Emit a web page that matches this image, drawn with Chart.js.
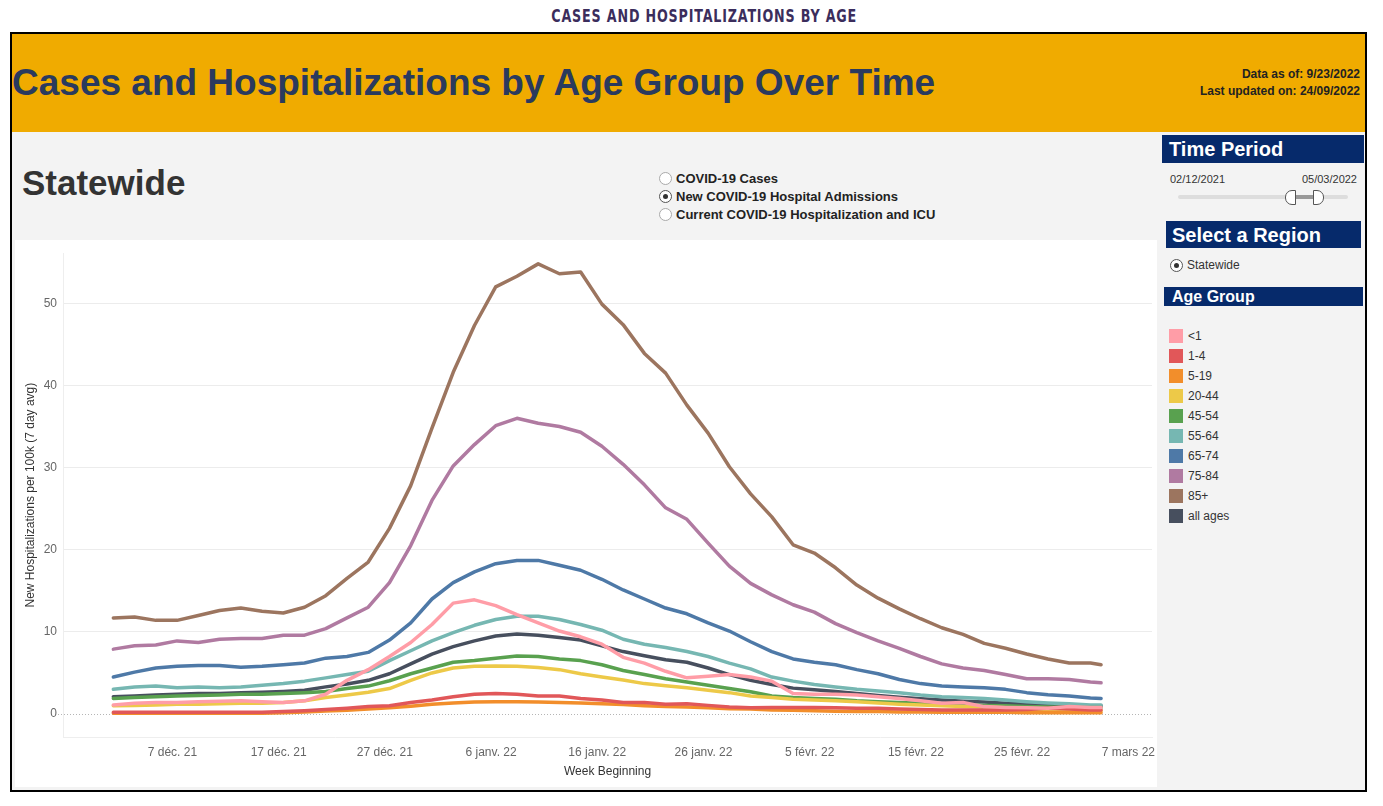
<!DOCTYPE html>
<html>
<head>
<meta charset="utf-8">
<title>Cases and Hospitalizations by Age</title>
<script src="https://cdn.jsdelivr.net/npm/chart.js@4.4.0/dist/chart.umd.min.js"></script>
<style>
    body { margin: 0; width: 1383px; height: 806px; background: #fff; position: relative; overflow: hidden;
           font-family: "Liberation Sans", Arial, sans-serif; }
    .abs { position: absolute; }
    #pageTitleRow { left: 13px; top: 6px; width: 1383px; text-align: center; }
    #pageTitle { display: inline-block; transform: scaleX(0.83); font-family: "Liberation Sans Narrow", "DejaVu Sans Condensed", sans-serif;
                 font-weight: bold; font-size: 17px; line-height: 20px; letter-spacing: 1px; color: #3b2d5c; }
    #frame { left: 10px; top: 32px; width: 1353px; height: 756px; border: 2px solid #000; background: #f3f3f3; }
    #header { left: 12px; top: 34px; width: 1353px; height: 98px; background: #f0ab00; }
    #bigTitle { left: 12px; top: 62px; font-size: 37px; line-height: 42px; font-weight: bold; color: #2a3a5e; white-space: nowrap; }
    .stamp { right: 23px; font-size: 12px; line-height: 14px; font-weight: bold; color: #222; text-align: right; }
    #statewide { left: 22px; top: 163px; font-size: 35px; line-height: 40px; font-weight: bold; color: #333; }
    .radio { width: 11px; height: 11px; border: 1px solid #aaa; border-radius: 50%; background: #fff; }
    .radio.on { border-color: #555; }
    .radio.on::after { content: ""; position: absolute; left: 3px; top: 3px; width: 5px; height: 5px; border-radius: 50%; background: #333; }
    .measure { left: 676px; font-size: 13px; line-height: 15px; font-weight: bold; color: #222; white-space: nowrap; }
    #chartBox { left: 15px; top: 240px; width: 1142px; height: 547px; background: #fff; }
    .panelHead { background: #062a6b; color: #fff; font-weight: bold; white-space: nowrap; box-sizing: border-box; }
    .small { font-size: 11px; line-height: 13px; color: #333; }
    .legendSwatch { left: 1169px; width: 14px; height: 14px; }
    .legendLabel { left: 1188px; font-size: 12px; line-height: 14px; color: #333; }
</style>
</head>
<body>
<div id="pageTitleRow" class="abs"><span id="pageTitle">CASES AND HOSPITALIZATIONS BY AGE</span></div>
<div id="frame" class="abs"></div>
<div id="header" class="abs"></div>
<div id="bigTitle" class="abs">Cases and Hospitalizations by Age Group Over Time</div>
<div class="abs stamp" style="top:67px">Data as of: 9/23/2022</div>
<div class="abs stamp" style="top:84px">Last updated on: 24/09/2022</div>

<div id="statewide" class="abs">Statewide</div>
<div class="abs radio" style="left:659px; top:172px"></div>
<div class="abs radio on" style="left:659px; top:190px"></div>
<div class="abs radio" style="left:659px; top:208px"></div>
<div class="abs measure" style="top:171px">COVID-19 Cases</div>
<div class="abs measure" style="top:189px">New COVID-19 Hospital Admissions</div>
<div class="abs measure" style="top:207px">Current COVID-19 Hospitalization and ICU</div>

<div id="chartBox" class="abs"><canvas id="hosp-chart" width="1142" height="547"></canvas></div>

<!-- Side panel -->
<div class="abs panelHead" style="left:1162px; top:135px; width:202px; height:28px; padding-left:7px; font-size:20px; line-height:28px">Time Period</div>
<div class="abs small" style="left:1170px; top:173px">02/12/2021</div>
<div class="abs small" style="right:26px; top:173px">05/03/2022</div>
<div class="abs" style="left:1178px; top:195px; width:170px; height:4px; border-radius:2px; background:#ddd"></div>
<div class="abs" style="left:1290px; top:195px; width:27px; height:4px; background:#999"></div>
<div class="abs" style="left:1285px; top:190px; width:9px; height:13px; background:#fff; border:1px solid #555; border-radius:7px 0 0 7px"></div>
<div class="abs" style="left:1313px; top:190px; width:9px; height:13px; background:#fff; border:1px solid #555; border-radius:0 7px 7px 0"></div>

<div class="abs panelHead" style="left:1166px; top:221px; width:195px; height:27px; padding-left:6px; font-size:20px; line-height:28px">Select a Region</div>
<div class="abs radio on" style="left:1170px; top:259px"></div>
<div class="abs legendLabel" style="left:1187px; top:258px">Statewide</div>

<div class="abs panelHead" style="left:1164px; top:287px; width:199px; height:19px; padding-left:8px; font-size:16px; line-height:20px">Age Group</div>
<div id="legend"></div>

<script>
    "use strict";

    // Chart data (2-day samples, day 0 = 2 déc. 2021)
    var days = [0, 2, 4, 6, 8, 10, 12, 14, 16, 18, 20, 22, 24, 26, 28, 30, 32, 34, 36, 38, 40, 42, 44, 46,
        48, 50, 52, 54, 56, 58, 60, 62, 64, 66, 68, 70, 72, 74, 76, 78, 80, 82, 84, 86, 88, 90, 92, 93];
    var tickDays = [5, 15, 25, 35, 45, 55, 65, 75, 85, 95];
    var tickLabels = ["7 déc. 21", "17 déc. 21", "27 déc. 21", "6 janv. 22", "16 janv. 22", "26 janv. 22",
        "5 févr. 22", "15 févr. 22", "25 févr. 22", "7 mars 22"];
    var yTicks = [0, 10, 20, 30, 40, 50];

    var groupNames = ["<1", "1-4", "5-19", "20-44", "45-54", "55-64", "65-74", "75-84", "85+", "all ages"];
    var groupColors = ["#ff9da7", "#e15759", "#f28e2b", "#edc948", "#59a14f", "#76b7b2", "#4e79a7", "#b07aa1", "#9c755f", "#474f5e"];

    var under1 = [1.1, 1.3, 1.4, 1.4, 1.5, 1.55, 1.6, 1.5, 1.4, 1.6, 2.4, 4.1, 5.4, 7.0, 8.7, 10.9, 13.5, 13.9, 13.2, 12.1,
        11.1, 10.1, 9.4, 8.5, 6.9, 6.2, 5.2, 4.4, 4.6, 4.8, 4.5, 4.0, 2.5, 2.4, 2.4, 2.3, 2.1, 1.9, 1.6, 1.3,
        1.4, 0.9, 0.8, 0.75, 0.7, 0.9, 0.8, 0.8];
    var age1to4 = [0.2, 0.2, 0.2, 0.2, 0.2, 0.2, 0.2, 0.2, 0.3, 0.4, 0.55, 0.7, 0.9, 1.0, 1.4, 1.7, 2.1, 2.4, 2.5, 2.4,
        2.2, 2.2, 1.9, 1.7, 1.4, 1.4, 1.2, 1.25, 1.05, 0.85, 0.75, 0.8, 0.8, 0.8, 0.75, 0.7, 0.7, 0.6, 0.55, 0.5,
        0.5, 0.5, 0.5, 0.55, 0.7, 0.6, 0.5, 0.5];
    var age5to19 = [0.1, 0.1, 0.1, 0.1, 0.1, 0.1, 0.1, 0.1, 0.15, 0.25, 0.35, 0.45, 0.6, 0.75, 0.95, 1.2, 1.35, 1.45, 1.5, 1.5,
        1.45, 1.4, 1.35, 1.25, 1.15, 1.0, 0.9, 0.85, 0.75, 0.65, 0.6, 0.5, 0.45, 0.4, 0.35, 0.3, 0.3, 0.25, 0.25, 0.2,
        0.2, 0.2, 0.2, 0.15, 0.15, 0.15, 0.15, 0.15];
    var age20to44 = [1.0, 1.05, 1.1, 1.2, 1.2, 1.25, 1.3, 1.3, 1.4, 1.6, 2.0, 2.3, 2.65, 3.1, 4.1, 5.0, 5.6, 5.8, 5.85, 5.8,
        5.65, 5.4, 4.9, 4.5, 4.15, 3.7, 3.45, 3.2, 2.9, 2.6, 2.2, 2.0, 1.8, 1.7, 1.6, 1.5, 1.35, 1.2, 1.1, 1.0,
        0.9, 0.85, 0.75, 0.6, 0.5, 0.45, 0.4, 0.4];
    var age45to54 = [1.9, 2.0, 2.1, 2.2, 2.25, 2.3, 2.4, 2.4, 2.5, 2.6, 2.75, 3.1, 3.4, 4.05, 4.9, 5.6, 6.3, 6.5, 6.8, 7.05,
        7.0, 6.7, 6.5, 6.0, 5.3, 4.8, 4.3, 3.9, 3.5, 3.1, 2.7, 2.2, 2.0, 1.9, 1.8, 1.6, 1.5, 1.4, 1.3, 1.2,
        1.15, 1.05, 1.0, 0.9, 0.85, 0.8, 0.8, 0.8];
    var age55to64 = [3.0, 3.3, 3.4, 3.2, 3.3, 3.2, 3.3, 3.5, 3.7, 4.0, 4.4, 4.8, 5.2, 6.5, 7.7, 8.9, 9.9, 10.8, 11.5, 11.9,
        11.9, 11.5, 10.9, 10.2, 9.1, 8.5, 8.1, 7.6, 7.0, 6.2, 5.5, 4.5, 4.0, 3.6, 3.3, 3.0, 2.8, 2.6, 2.3, 2.1,
        2.0, 1.9, 1.7, 1.5, 1.35, 1.25, 1.1, 1.1];
    var age65to74 = [4.5, 5.1, 5.6, 5.8, 5.9, 5.9, 5.7, 5.8, 6.0, 6.2, 6.8, 7.0, 7.5, 9.0, 11.1, 14.0, 16.0, 17.3, 18.3, 18.7,
        18.7, 18.1, 17.5, 16.4, 15.1, 14.0, 12.9, 12.2, 11.1, 10.1, 8.8, 7.6, 6.7, 6.3, 6.0, 5.4, 4.9, 4.2, 3.7, 3.4,
        3.3, 3.2, 3.0, 2.6, 2.35, 2.2, 1.95, 1.9];
    var age75to84 = [7.9, 8.3, 8.4, 8.9, 8.7, 9.1, 9.2, 9.2, 9.6, 9.6, 10.4, 11.7, 13.0, 16.0, 20.5, 26.0, 30.2, 32.8, 35.1, 36.0,
        35.4, 35.0, 34.3, 32.6, 30.4, 27.9, 25.1, 23.7, 20.8, 18.0, 15.9, 14.5, 13.3, 12.4, 11.0, 9.9, 8.9, 8.0, 7.0, 6.1,
        5.6, 5.3, 4.8, 4.3, 4.3, 4.2, 3.9, 3.8];
    var age85plus = [11.7, 11.8, 11.4, 11.4, 12.0, 12.6, 12.9, 12.5, 12.3, 13.0, 14.4, 16.5, 18.5, 22.6, 27.8, 34.8, 41.6, 47.3, 52.0, 53.3,
        54.8, 53.6, 53.8, 49.9, 47.4, 43.9, 41.5, 37.6, 34.2, 30.1, 26.8, 24.0, 20.6, 19.6, 17.8, 15.7, 14.1, 12.8, 11.6, 10.5,
        9.7, 8.6, 8.0, 7.3, 6.7, 6.2, 6.2, 6.0];
    var allAges = [2.1, 2.2, 2.3, 2.4, 2.5, 2.5, 2.6, 2.65, 2.75, 2.9, 3.3, 3.65, 4.1, 4.9, 6.1, 7.3, 8.2, 8.9, 9.5, 9.75,
        9.6, 9.3, 9.0, 8.3, 7.6, 7.1, 6.6, 6.3, 5.6, 4.8, 4.1, 3.6, 3.15, 2.95, 2.75, 2.5, 2.25, 2.05, 1.85, 1.7,
        1.55, 1.45, 1.3, 1.2, 1.1, 1.0, 1.0, 1.0];

    var groupValues = [under1, age1to4, age5to19, age20to44, age45to54, age55to64, age65to74, age75to84, age85plus, allAges];


    // Legend (side panel)
    var legend = document.getElementById("legend");
    groupNames.forEach(function (name, i) {
        var sw = document.createElement("div");
        sw.className = "abs legendSwatch";
        sw.style.top = (329 + i * 20) + "px";
        sw.style.background = groupColors[i];
        legend.appendChild(sw);
        var lb = document.createElement("div");
        lb.className = "abs legendLabel";
        lb.style.top = (329 + i * 20) + "px";
        lb.textContent = name;
        legend.appendChild(lb);
    });


    // Dotted zero line
    var zeroLine = {
        id: "zeroLine",
        beforeDatasetsDraw: function (chart) {
            var ctx = chart.ctx;
            var y = Math.round(chart.scales.y.getPixelForValue(0)) + 0.5;
            ctx.save();
            ctx.strokeStyle = "#b5b5b5";
            ctx.lineWidth = 1;
            ctx.setLineDash([1, 2]);
            ctx.beginPath();
            ctx.moveTo(chart.chartArea.left - 5, y);
            ctx.lineTo(chart.chartArea.right, y);
            ctx.stroke();
            ctx.restore();
        }
    };


    // Hospitalizations chart
    var datasets = groupNames.map(function (name, i) {
        return {
            label: name,
            data: days.map(function (d, j) { return { x: d, y: groupValues[i][j] }; }),
            borderColor: groupColors[i],
            backgroundColor: groupColors[i],
            borderWidth: 3.5,
            pointRadius: 0,
            tension: 0,
            borderJoinStyle: "round",
            borderCapStyle: "round",
            fill: false
        };
    });

    var ctx1 = document.getElementById("hosp-chart").getContext("2d");
    var myChart1 = new Chart(ctx1, {
        type: "line",
        data: { datasets: datasets },
        plugins: [zeroLine],
        options: {
            responsive: false,
            animation: false,
            layout: { padding: { top: 5, right: 0, left: 0, bottom: 0 } },
            plugins: { legend: { display: false }, tooltip: { enabled: false } },
            scales: {
                x: {
                    type: "linear",
                    min: -4.74,
                    max: 97.8,
                    afterBuildTicks: function (axis) { axis.ticks = tickDays.map(function (v) { return { value: v }; }); },
                    afterFit: function (axis) { axis.height = 50; },
                    grid: { display: false, drawTicks: false },
                    border: { display: true, color: "#eeeeee" },
                    ticks: {
                        autoSkip: false, maxRotation: 0, padding: 8, labelOffset: 6, color: "#666",
                        font: { family: "'Liberation Sans', Arial", size: 12 },
                        callback: function (v) { return tickLabels[tickDays.indexOf(v)]; }
                    },
                    title: {
                        display: true, text: "Week Beginning", color: "#333",
                        font: { family: "'Liberation Sans', Arial", size: 12 },
                        padding: { top: 4, bottom: 8 }
                    }
                },
                y: {
                    min: -2.8,
                    max: 56.1,
                    afterBuildTicks: function (axis) { axis.ticks = yTicks.map(function (v) { return { value: v }; }); },
                    afterFit: function (axis) { axis.width = 48; },
                    grid: {
                        drawTicks: false,
                        color: function (c) { return c.tick && c.tick.value === 0 ? "rgba(0,0,0,0)" : "#ececec"; }
                    },
                    border: { display: true, color: "#eeeeee" },
                    ticks: { padding: 6, color: "#666", font: { family: "'Liberation Sans', Arial", size: 12 } },
                    title: {
                        display: true, text: "New Hospitalizations per 100k (7 day avg)", color: "#333",
                        font: { family: "'Liberation Sans', Arial", size: 12 },
                        padding: { top: 8, bottom: 0 }
                    }
                }
            }
        }
    });
</script>
</body>
</html>
